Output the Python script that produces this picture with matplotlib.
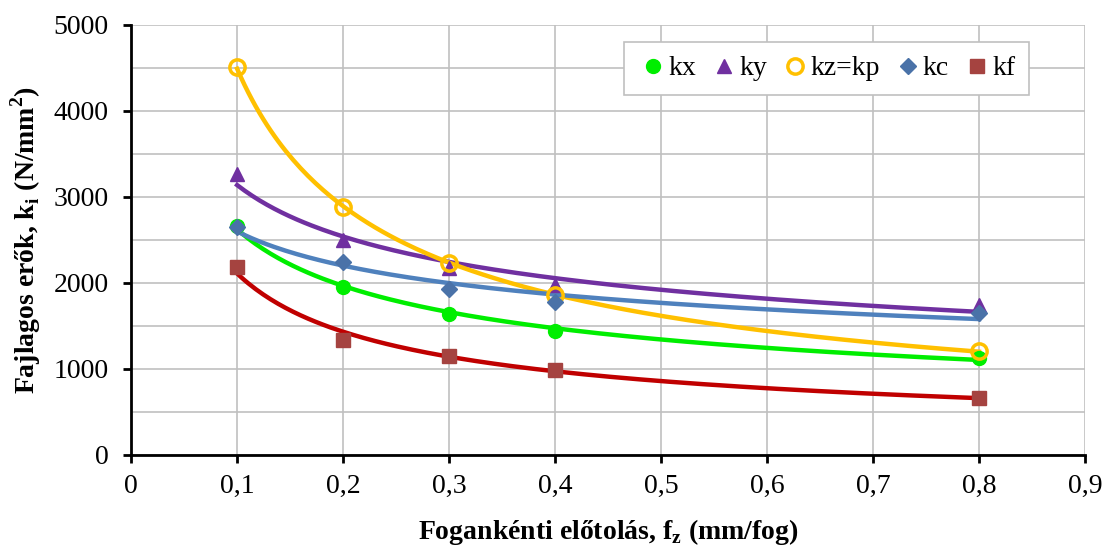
import numpy as np
import matplotlib
matplotlib.use("Agg")
import matplotlib.pyplot as plt
from matplotlib.ticker import MultipleLocator

plt.rcParams['font.family'] = ['Liberation Serif', 'DejaVu Serif']
plt.rcParams['mathtext.fontset'] = 'custom'
plt.rcParams['mathtext.rm'] = 'Liberation Serif'
plt.rcParams['mathtext.bf'] = 'Liberation Serif:bold'

fz = [0.1, 0.2, 0.3, 0.4, 0.8]
kx = [2660, 1955, 1640, 1445, 1125]
ky = [3260, 2500, 2170, 1975, 1745]
kz = [4510, 2880, 2230, 1855, 1205]
kc = [2650, 2240, 1930, 1775, 1650]
kf = [2185, 1340, 1150, 985, 665]

series = [
    ("kx", kx, dict(marker='o', color='#00ee00', mfc='#00ee00', mec='#00ee00', ms=10), '#00ee00'),
    ("ky", ky, dict(marker='^', color='#7030a0', mfc='#7030a0', mec='#7030a0', ms=10), '#7030a0'),
    ("kz=kp", kz, dict(marker='o', color='#ffc000', mfc='none', mec='#ffc000', ms=11, mew=2.5), '#ffc000'),
    ("kc", kc, dict(marker='D', color='#4a72a8', mfc='#4a72a8', mec='#4a72a8', ms=8), '#4f81bd'),
    ("kf", kf, dict(marker='s', color='#a54340', mfc='#a54340', mec='#a54340', ms=10), '#c00000'),
]

fig = plt.figure(figsize=(11.02, 5.5), dpi=100)
ax = fig.add_axes([0.119, 0.173, 0.8656, 0.782])

xs = np.linspace(min(fz), max(fz), 200)
lx = np.log(np.array(fz))
for name, vals, mk, lc in series:
    b, a = np.polyfit(lx, np.log(np.array(vals, float)), 1)
    ax.plot(xs, np.exp(a) * xs ** b, color=lc, lw=3.2, zorder=2)
for name, vals, mk, lc in series:
    ax.plot(fz, vals, ls='none', label=name, zorder=3, **mk)

ax.set_xlim(0, 0.9)
ax.set_ylim(0, 5000)
ax.yaxis.set_major_locator(MultipleLocator(1000))
ax.yaxis.set_minor_locator(MultipleLocator(500))
ax.set_xticks(np.arange(0, 0.91, 0.1))
ax.set_xticklabels(['0'] + ['0,%d' % i for i in range(1, 10)])
ax.grid(True, which='both', color='#c0c0c0', lw=1.2)
ax.tick_params(axis='y', which='minor', length=0)
ax.tick_params(axis='both', which='major', direction='out', length=6, width=2, labelsize=20, color='black')
ax.tick_params(axis='x', pad=8)
ax.tick_params(axis='y', pad=10)
ax.set_axisbelow(True)
for s in ['top', 'right']:
    ax.spines[s].set_visible(False)
for s in ['left', 'bottom']:
    ax.spines[s].set_linewidth(2)

ax.set_xlabel(r'Fogankénti előtolás, f$_\mathbf{z}$ (mm/fog)', fontsize=20, fontweight='bold', labelpad=13)
ax.set_ylabel(r'Fajlagos erők, k$_\mathbf{i}$ (N/mm$^\mathbf{2}$)', fontsize=20, fontweight='bold', labelpad=8)

leg = ax.legend(ncol=5, loc='upper left', bbox_to_anchor=(0.517, 0.96), fontsize=20,
                frameon=True, fancybox=False, edgecolor='#c0c0c0', framealpha=1,
                handletextpad=0.0, columnspacing=0.45, handlelength=1.1, borderpad=0.5,
                borderaxespad=0)
leg.get_frame().set_linewidth(1.2)

fig.savefig('out.png', dpi=100)
